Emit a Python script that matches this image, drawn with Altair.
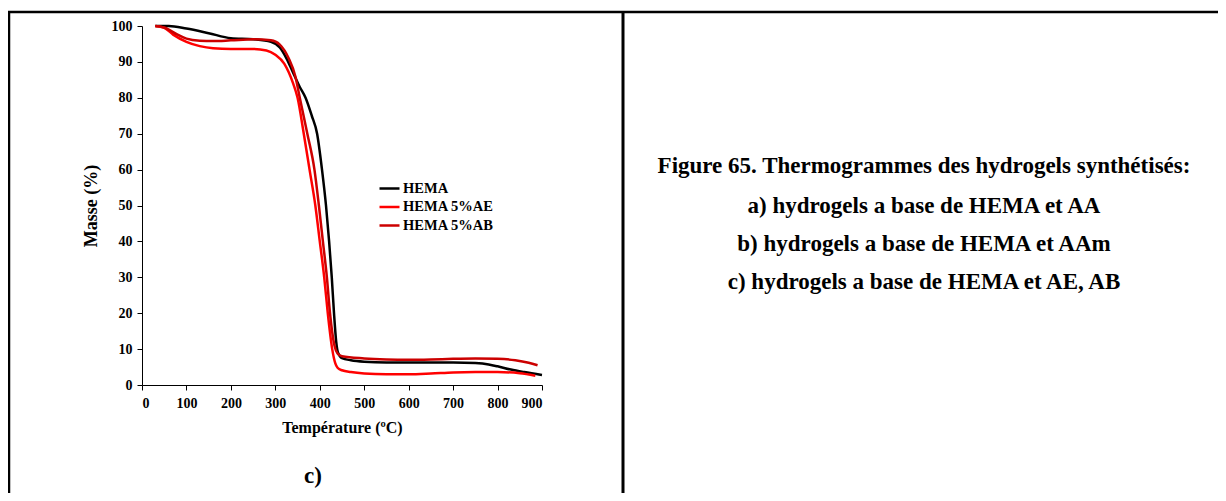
import altair as alt
import pandas as pd

# ---- data ----
hema_t = [30, 60, 100, 150, 200, 250, 290, 310, 325, 340, 355, 368, 382, 394, 405, 414, 421, 427, 432, 437, 441, 450, 470, 500, 550, 600, 650, 700, 750, 780, 800, 830, 860, 900]
hema_m = [100, 100, 99.3, 98, 96.6, 96.3, 95.6, 94, 91, 87, 83, 80, 75, 70, 60, 50, 40, 30, 20, 12, 9, 7.5, 6.9, 6.5, 6.3, 6.3, 6.3, 6.3, 6.1, 5.7, 5.2, 4.3, 3.6, 2.8]

ae_t = [30, 50, 70, 100, 130, 160, 200, 250, 280, 300, 320, 340, 350, 364, 377, 390, 400, 410, 418, 428, 435, 440, 450, 470, 500, 550, 600, 650, 700, 750, 800, 850, 885]
ae_m = [100, 99.5, 97.6, 95.6, 94.4, 93.8, 93.6, 93.6, 93.2, 92, 89.5, 84, 80, 70, 60, 50, 40, 30, 20, 10, 6, 4.8, 4.1, 3.6, 3.2, 3.0, 3.0, 3.2, 3.5, 3.6, 3.6, 3.3, 2.6]

ab_t = [30, 50, 80, 100, 130, 160, 200, 250, 290, 310, 330, 345, 355, 372, 388, 398, 407, 416, 423, 433, 440, 450, 500, 550, 600, 650, 700, 750, 800, 840, 870, 890]
ab_m = [100, 99.6, 97.6, 96.5, 95.9, 95.8, 96.0, 96.3, 96.0, 94.8, 91, 86, 80, 70, 60, 50, 40, 30, 20, 11, 8.8, 8.0, 7.4, 7.1, 7.0, 7.1, 7.3, 7.4, 7.3, 6.9, 6.2, 5.5]

series_names = ["HEMA", "HEMA 5%AE", "HEMA 5%AB"]
series_colors = ["#000000", "#FF0000", "#CC0000"]

x_ticks = [0, 100, 200, 300, 400, 500, 600, 700, 800, 900]
y_ticks = [0, 10, 20, 30, 40, 50, 60, 70, 80, 90, 100]

caption_lines = [
    "Figure 65. Thermogrammes des hydrogels synthétisés:",
    "a) hydrogels a base de HEMA et AA",
    "b) hydrogels a base de HEMA et AAm",
    "c) hydrogels a base de HEMA et AE, AB",
]
panel_label = "c)"

rows = []
for name, ts, ms in zip(series_names, [hema_t, ae_t, ab_t], [hema_m, ae_m, ab_m]):
    for t, m in zip(ts, ms):
        rows.append({"serie": name, "T": t, "M": m})
df = pd.DataFrame(rows)

FONT = "Liberation Serif"
W, H = 400, 359
PAD_L, PAD_T = 134, 18
TOTAL_W, TOTAL_H = 1210, 485

lines = alt.Chart(df).mark_line(strokeWidth=2.5, interpolate="monotone").encode(
    x=alt.X("T:Q", title="Température (ºC)",
            scale=alt.Scale(domain=[0, 900], nice=False, zero=False),
            axis=alt.Axis(values=x_ticks, format="d", titleFontSize=16)),
    y=alt.Y("M:Q", title="Masse (%)",
            scale=alt.Scale(domain=[0, 100], nice=False),
            axis=alt.Axis(values=y_ticks, format="d", titleFontSize=18)),
    color=alt.Color("serie:N", sort=series_names,
                    scale=alt.Scale(domain=series_names, range=series_colors),
                    legend=alt.Legend(title=None, orient="none", legendX=236, legendY=151,
                                      symbolType="stroke", symbolSize=400, symbolStrokeWidth=2.5,
                                      labelFont=FONT, labelFontSize=14.5, labelFontWeight="bold",
                                      labelColor="#000000", labelOffset=2, rowPadding=0.5)),
)

one = pd.DataFrame({"k": [0]})
top_y = 12 - 8 - PAD_T
left_x = 8 - 8 - PAD_L
bottom_y = TOTAL_H - PAD_T
div_x = 623 - 8 - PAD_L

top_border = alt.Chart(one).mark_rule(color="black", strokeWidth=2.5).encode(
    x=alt.value(left_x), x2=alt.value(TOTAL_W - PAD_L), y=alt.value(top_y))
left_border = alt.Chart(one).mark_rule(color="black", strokeWidth=2.5).encode(
    x=alt.value(left_x + 1), y=alt.value(top_y), y2=alt.value(bottom_y))
divider = alt.Chart(one).mark_rule(color="black", strokeWidth=3).encode(
    x=alt.value(div_x), y=alt.value(top_y), y2=alt.value(bottom_y))

cap_x = 924 - 8 - PAD_L
cap_ys = [166, 206, 244, 282]
cap_df = pd.DataFrame({"txt": caption_lines, "py": [v - 8 - PAD_T for v in cap_ys]})
caption = alt.Chart(cap_df).mark_text(font=FONT, fontSize=23, fontWeight="bold",
                                      color="black", align="center", baseline="middle").encode(
    x=alt.value(cap_x), y=alt.Y("py:Q", scale=None), text="txt:N")

label_c = alt.Chart(one).mark_text(font=FONT, fontSize=23, fontWeight="bold", color="black",
                                   align="center", baseline="middle").encode(
    x=alt.value(313 - 8 - PAD_L), y=alt.value(476 - 8 - PAD_T), text=alt.value(panel_label))

chart = alt.layer(lines, top_border, left_border, divider, caption, label_c).properties(
    width=W, height=H,
    padding={"left": PAD_L, "top": PAD_T, "right": TOTAL_W - PAD_L - W, "bottom": TOTAL_H - PAD_T - H},
    autosize=alt.AutoSizeParams(type="none"),
).configure_view(stroke=None).configure_axis(
    grid=False, domainColor="#000000", domainWidth=1, tickColor="#000000", tickSize=5,
    labelFont=FONT, labelFontSize=14, labelFontWeight="bold", labelColor="#000000",
    titleFont=FONT, titleFontWeight="bold", titleColor="#000000",
).configure_axisX(labelPadding=6, titlePadding=9).configure_axisY(labelPadding=5, titlePadding=11)

chart.save("out.html", embed_options={"renderer": "svg", "actions": False})
